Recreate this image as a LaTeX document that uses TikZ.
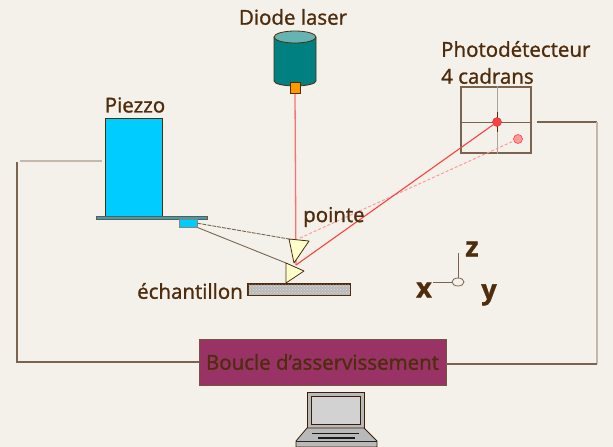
\documentclass[tikz,border=0pt]{standalone}
\usepackage{fontspec}
\setmainfont{Open Sans}[FakeBold=1.2]
\usetikzlibrary{calc,patterns,shapes.geometric}

\definecolor{paper}{HTML}{F3F1EA}
\definecolor{ink}{HTML}{4E2C0C}
\definecolor{wire}{HTML}{7A6450}
\definecolor{wirelight}{HTML}{C4B8AC}
\definecolor{piezoblue}{HTML}{00CCFF}
\definecolor{platecol}{HTML}{2AA5C0}
\definecolor{laserbody}{HTML}{008080}
\definecolor{lasertop}{HTML}{66B3B3}
\definecolor{nozzle}{HTML}{FF9900}
\definecolor{tipfill}{HTML}{FFFFCC}
\definecolor{loopfill}{HTML}{993366}
\definecolor{beam}{HTML}{FF4040}
\definecolor{beamlight}{HTML}{FF7070}
\definecolor{beampale}{HTML}{FF9A9A}

\tikzset{
  label text/.style={text=ink, font=\fontsize{20.5}{22}\selectfont, inner sep=0pt},
  axis text/.style={text=ink, font=\fontsize{27}{28}\selectfont\bfseries, inner sep=0pt},
  outline/.style={draw=ink, line width=0.8pt},
  wireline/.style={draw=wire, line width=1.1pt},
  wirepale/.style={draw=wirelight, line width=1.1pt},
  tipshape/.style={outline, fill=tipfill, line join=round},
}

\begin{document}
\begin{tikzpicture}[x=1pt, y=-1pt]
  \useasboundingbox (0,0) rectangle (613,447);
  \fill[paper] (0,0) rectangle (613,447);

  % ---- laser diode ----
  \node[label text] (laserlabel) at (293,17) {Diode laser};
  \fill[laserbody] (274,37) -- (274,81) arc[start angle=180, end angle=0, x radius=21, y radius=5] -- (316,37) -- cycle;
  \draw[outline] (274,37) -- (274,81) arc[start angle=180, end angle=0, x radius=21, y radius=5] -- (316,37);
  \draw[outline, fill=lasertop] (295,37) ellipse[x radius=21, y radius=6];
  \node[outline, fill=nozzle, minimum width=10pt, minimum height=11pt, inner sep=0pt, line width=0.6pt] (nozzle) at (295,88) {};

  % ---- photodetector ----
  \node[label text, anchor=west] (detlabel1) at (441,49) {Photodétecteur};
  \node[label text, anchor=west] (detlabel2) at (441,76) {4 cadrans};
  \node[draw=wire, line width=1.2pt, minimum width=70pt, minimum height=66pt, inner sep=0pt] (det) at (496,120) {};
  \draw[wire, line width=1pt] (det.west |- 0,122) -- (det.east |- 0,122);
  \draw[wire!60, line width=1pt] (497,0 |- det.north) -- (497,0 |- det.south);
  \draw[ink, line width=1pt] (497,112) -- (497,132);

  % ---- piezo and cantilever ----
  \node[label text] (piezolabel) at (135,105) {Piezzo};
  \node[outline, fill=piezoblue, minimum width=57pt, minimum height=98pt, inner sep=0pt] (piezo) at (133.5,167) {};
  \node[draw=ink!80, line width=0.6pt, fill=platecol, minimum width=111pt, minimum height=3pt, inner sep=0pt, anchor=north west] (plate) at (96,215.5) {};
  \node[draw=ink!60, line width=0.5pt, fill=piezoblue, minimum width=18pt, minimum height=8pt, inner sep=0pt, anchor=north west] (block) at (179,219) {};

  \coordinate (upA) at (289,239);
  \coordinate (upB) at (309,241);
  \coordinate (upC) at (294,263);
  \coordinate (loA) at (286,263);
  \coordinate (loB) at (304,271);
  \coordinate (loC) at (286,283);

  \draw[wire, line width=0.9pt, dash pattern=on 4pt off 1pt] (block.east) -- (upA);
  \draw[wire, line width=0.9pt] (block.south east) -- (loA);

  % ---- laser beams ----
  \coordinate (hit) at (296,265);
  \node[circle, fill=beam, draw=beam!80!black, inner sep=0pt, minimum size=9pt] (spot) at (497,122) {};
  \node[circle, fill=beampale, draw=beam, inner sep=0pt, minimum size=9pt, line width=0.6pt] (ghost) at (518,139) {};
  \draw[beamlight, line width=1.3pt] (nozzle.south) -- (hit);
  \draw[beampale, line width=1pt, dash pattern=on 3pt off 2pt] (300,238) -- (ghost);
  \draw[beam, line width=1.1pt] (hit) -- (spot);

  % ---- tip positions ----
  \draw[tipshape] (upA) -- (upB) -- (upC) -- cycle;
  \draw[tipshape] (loA) -- (loB) -- (loC) -- cycle;
  \node[label text, anchor=west] (tiplabel) at (303,217) {pointe};

  % ---- sample ----
  \node[draw=ink, line width=0.6pt, fill=gray!55, minimum width=102pt, minimum height=11pt, inner sep=0pt] (sample) at (299,289.5) {};
  \fill[pattern=crosshatch dots, pattern color=white!75!gray] (sample.south west) rectangle (sample.north east);
  \draw[draw=ink, line width=0.6pt] (sample.south west) rectangle (sample.north east);
  \node[label text, anchor=east] (samplelabel) at (243,291) {échantillon};

  % ---- axes ----
  \node[draw=wire, line width=0.8pt, ellipse, minimum width=12pt, minimum height=8pt, inner sep=0pt] (origin) at (458,282) {};
  \draw[wire, line width=0.9pt] (origin.north) -- (458,253);
  \draw[wire, line width=0.9pt] (origin.west) -- (433,282);
  \node[axis text] (zlabel) at (472,249) {z};
  \node[axis text] (xlabel) at (424,290) {x};
  \node[axis text] (ylabel) at (489,295) {y};

  % ---- feedback loop ----
  \node[draw=ink!80, line width=0.8pt, fill=loopfill, minimum width=247pt, minimum height=46pt, inner sep=0pt, text=ink, font=\fontsize{20.5}{22}\selectfont] (loop) at (322.5,362) {Boucle d'asservissement};
  \coordinate (leftTop) at (20,161);
  \coordinate (leftTopEnd) at (102,161);
  \draw[wirepale] (leftTop) -- (leftTopEnd);
  \draw[wireline] (17,162) |- (loop.west);
  \coordinate (rightCorner) at (597,122);
  \draw[wireline] (537,122) -- (rightCorner);
  \draw[wirepale] (rightCorner) -- (597,364);
  \draw[wireline] (597,364) -- (loop.east |- 0,364);

  % ---- computer ----
  \draw[draw=ink!70!black, line width=0.8pt, fill=gray!55] (307,392) rectangle (364,428);
  \draw[draw=ink!70!black, line width=0.6pt, fill=gray!35] (311,396) rectangle (360,424);
  \draw[draw=ink!70!black, line width=0.8pt, fill=gray!55] (307,428) -- (364,428) -- (377,441) -- (377,447) -- (296,447) -- (296,441) -- cycle;
  \draw[gray!20!black, line width=0.6pt] (312,433) -- (359,433);
  \draw[gray!20!black, line width=1.6pt] (318,438) -- (355,438);
  \draw[gray!30!black, line width=0.5pt] (296,441) -- (377,441);
\end{tikzpicture}
\end{document}
